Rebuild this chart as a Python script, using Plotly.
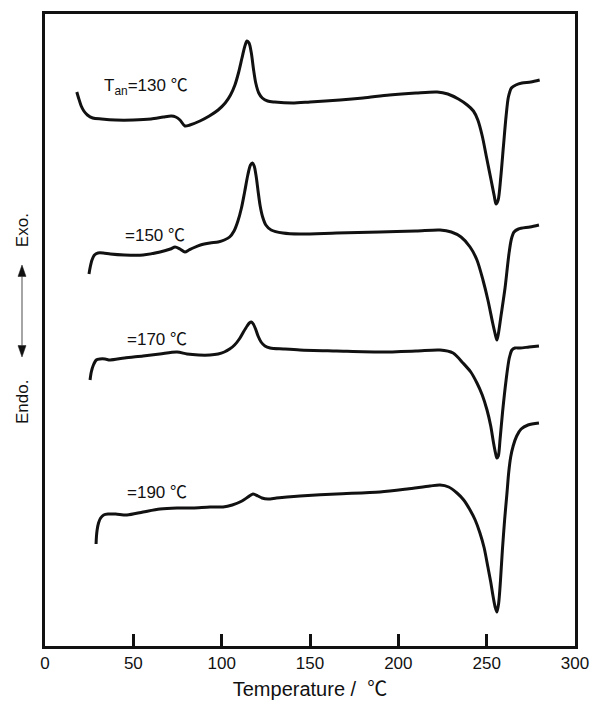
import plotly.graph_objects as go

# DSC heating traces after annealing at different temperatures (stacked, arbitrary units)
T_130 = [18, 19, 20.5, 22, 24, 27, 32, 40, 50, 60, 67, 71.5, 74, 76.4, 79.2, 82, 87.7, 93, 98,
         102, 105, 107.5, 109.5, 111.5, 113, 114.3, 115.5, 116.8, 118, 119.3, 121, 123, 126,
         130, 140, 150, 167, 180, 195, 210, 222, 228, 234, 239, 242.5, 245, 247.5, 250, 252.5,
         254.3, 255.3, 256.5, 258, 259.5, 261, 262.3, 264, 266.5, 270, 275, 280]
H_130 = [55.4, 54.8, 54.0, 53.5, 53.1, 52.8, 52.7, 52.6, 52.6, 52.7, 52.9, 53.0, 52.9, 52.6,
         52.0, 52.1, 52.5, 53.0, 53.6, 54.3, 55.1, 56.1, 57.3, 58.8, 59.9, 60.5, 60.3, 59.3,
         57.7, 56.3, 55.3, 54.8, 54.5, 54.4, 54.3, 54.4, 54.6, 54.8, 55.1, 55.3, 55.4, 55.2,
         54.7, 54.1, 53.5, 52.6, 51.0, 48.8, 46.6, 45.0, 44.2, 44.6, 46.9, 50.0, 53.0, 54.9,
         55.8, 56.1, 56.3, 56.4, 56.6]

T_150 = [24.9, 25.6, 26.6, 28, 30, 33, 37, 45, 55.5, 65.1, 71, 73.6, 76.4, 79.2, 81.5, 83.8,
         88, 93.4, 98, 101.5, 104.5, 107, 109.2, 111.2, 113, 114.8, 116.3, 117.4, 118.4, 119.5,
         120.6, 121.8, 123.2, 125, 128, 134.7, 144.3, 165, 189.6, 210, 223.6, 230, 235.5,
         240.6, 244.5, 247.9, 250.7, 253.4, 255.1, 255.8, 256.6, 258.1, 260.4, 262.6, 264,
         265.5, 268, 274.5, 279.6]
H_150 = [37.2, 37.9, 38.6, 39.1, 39.3, 39.3, 39.2, 39.1, 39.1, 39.4, 39.7, 39.9, 39.7, 39.4,
         39.6, 39.8, 40.1, 40.3, 40.4, 40.6, 40.9, 41.5, 42.5, 43.8, 45.4, 47.1, 48.1, 48.3,
         48.0, 47.0, 45.5, 44.0, 42.9, 42.1, 41.6, 41.3, 41.2, 41.3, 41.4, 41.5, 41.6, 41.4,
         40.9, 39.9, 38.6, 36.6, 34.6, 32.3, 31.0, 30.6, 31.2, 33.0, 35.8, 39.2, 40.7, 41.4,
         41.7, 41.9, 42.1]

T_170 = [25.5, 26.2, 27.4, 29, 31.1, 34, 36.8, 45, 55.5, 65, 74.7, 80.4, 87, 93.4, 98,
         101.5, 104.5, 107.3, 110, 112.3, 114.4, 115.7, 116.8, 117.9, 119.2, 120.6, 122.3,
         124.5, 127.4, 135, 144.3, 165, 189.6, 210, 223.6, 231, 236.6, 241, 244.5, 247.5,
         250.2, 252.3, 253.8, 255, 255.8, 256.6, 257.6, 259, 261, 262.8, 264.3, 266, 268.9,
         274, 279.6]
H_170 = [26.6, 27.4, 28.1, 28.6, 28.7, 28.7, 28.6, 28.8, 29.0, 29.2, 29.4, 29.2, 29.1, 29.1,
         29.2, 29.4, 29.7, 30.1, 30.7, 31.4, 32.0, 32.3, 32.4, 32.2, 31.7, 31.0, 30.4, 30.0,
         29.8, 29.7, 29.6, 29.5, 29.4, 29.5, 29.6, 29.3, 28.3, 27.4, 26.3, 25.1, 23.6, 22.0,
         20.4, 19.3, 18.8, 19.0, 20.7, 23.4, 26.6, 28.8, 29.6, 29.8, 29.8, 29.9, 30.0]

T_190 = [28.9, 29.1, 29.5, 30.3, 31.5, 33.2, 35.7, 40, 46.4, 55.5, 65.1, 74.7, 83.7, 93.4,
         100.8, 106, 111.5, 114.9, 117.7, 120.5, 122.8, 126.2, 131, 137, 144.3, 165, 189.6,
         205, 217.9, 223.6, 228.5, 233.2, 237, 240.6, 243.5, 246.2, 248.6, 250.7, 252.3,
         253.6, 254.8, 255.8, 256.8, 257.8, 258.9, 260.2, 261.5, 262.5, 263.6, 265, 267,
         269.5, 273.4, 279.6]
H_190 = [10.2, 10.9, 11.6, 12.3, 12.8, 13.1, 13.2, 13.2, 13.1, 13.4, 13.7, 13.8, 13.8, 13.9,
         13.9, 14.1, 14.5, 14.9, 15.2, 15.0, 14.8, 14.7, 14.8, 14.9, 15.0, 15.2, 15.4, 15.7,
         16.0, 16.1, 15.9, 15.3, 14.6, 13.6, 12.6, 11.3, 9.8, 7.9, 6.4, 5.0, 3.9, 3.4, 4.3,
         6.5, 9.6, 12.7, 15.3, 17.4, 18.9, 20.0, 21.0, 21.7, 22.1, 22.3]

curve_labels = ["T<sub>an</sub>=130 ℃", "=150 ℃", "=170 ℃", "=190 ℃"]
label_x = [32.3, 44.1, 45.3, 45.3]
label_y = [55.9, 41.1, 30.7, 15.4]

x_ticks = [0, 50, 100, 150, 200, 250, 300]

FONT = "Liberation Sans, Arial, Noto Sans CJK SC, sans-serif"

fig = go.Figure()
for xs, ys in [(T_130, H_130), (T_150, H_150), (T_170, H_170), (T_190, H_190)]:
    fig.add_trace(go.Scatter(x=xs, y=ys, mode="lines",
                             line=dict(color="#111111", width=3, shape="spline", smoothing=0.8),
                             showlegend=False, hoverinfo="skip"))

for txt, lx, ly in zip(curve_labels, label_x, label_y):
    fig.add_annotation(x=lx, y=ly, xref="x", yref="y", text=txt, showarrow=False,
                       xanchor="left", yanchor="middle",
                       font=dict(family=FONT, size=17, color="#111111"))

# Exo./Endo. direction indicator on the left
ax_x = -0.0434
fig.add_annotation(x=ax_x, y=0.658, xref="paper", yref="paper", text="Exo.", textangle=-90,
                   xanchor="center", yanchor="middle",
                   showarrow=False, font=dict(family=FONT, size=17, color="#111111"))
fig.add_annotation(x=ax_x, y=0.386, xref="paper", yref="paper", text="Endo.", textangle=-90,
                   xanchor="center", yanchor="middle",
                   showarrow=False, font=dict(family=FONT, size=17, color="#111111"))
top_tip, bot_tip = 0.6028, 0.4573
hl, hw = 0.018, 0.0075
fig.add_shape(type="line", xref="paper", yref="paper", x0=ax_x, x1=ax_x,
              y0=bot_tip + hl, y1=top_tip - hl, line=dict(color="#888888", width=1.5))
fig.add_shape(type="path", xref="paper", yref="paper",
              path=f"M {ax_x} {top_tip} L {ax_x - hw} {top_tip - hl} L {ax_x + hw} {top_tip - hl} Z",
              fillcolor="#111111", line=dict(color="#111111", width=0.5))
fig.add_shape(type="path", xref="paper", yref="paper",
              path=f"M {ax_x} {bot_tip} L {ax_x - hw} {bot_tip + hl} L {ax_x + hw} {bot_tip + hl} Z",
              fillcolor="#111111", line=dict(color="#111111", width=0.5))

fig.update_layout(
    width=590, height=702,
    margin=dict(l=45, r=15, t=14, b=56),
    paper_bgcolor="white", plot_bgcolor="white",
    font=dict(family=FONT, size=17, color="#111111"),
    xaxis=dict(range=[0, 300], tickvals=x_ticks, ticks="inside", ticklen=12, tickwidth=3,
               tickcolor="#111111", showline=True, linecolor="#111111", linewidth=3,
               mirror=True, showgrid=False, zeroline=False, automargin=False,
               tickfont=dict(family=FONT, size=17),
               title=dict(text="Temperature /  ℃", font=dict(family=FONT, size=20), standoff=10)),
    yaxis=dict(range=[0, 63.2], showticklabels=False, ticks="", showline=True, automargin=False,
               linecolor="#111111", linewidth=3, mirror=True, showgrid=False, zeroline=False),
)

fig.write_html("out.html")
